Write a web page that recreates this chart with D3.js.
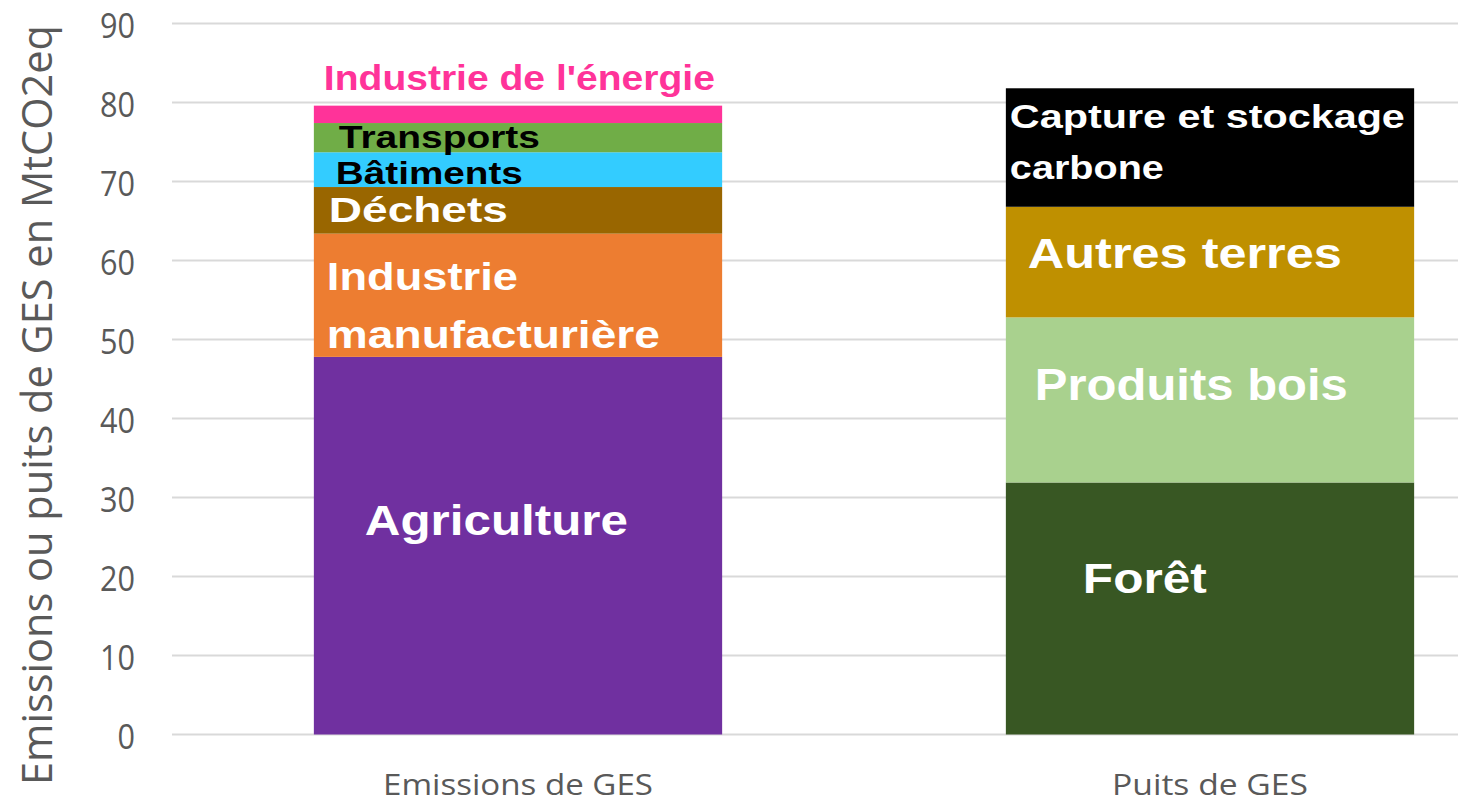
<!DOCTYPE html>
<html>
<head>
<meta charset="utf-8">
<script src="https://cdn.jsdelivr.net/npm/d3@7"></script>
<style>
	body { margin: 0; background: #fff; }
	svg { display: block; }
	.tick-label, .cat-label, .y-title { font-family: "Open Sans", sans-serif; fill: #595959; }
	.bar-label { font-family: "Liberation Sans", Arial, sans-serif; font-weight: bold; }
</style>
</head>
<body>
<script>
// chart data
var categories = ["Emissions de GES", "Puits de GES"];

var emissionSectors = ["Agriculture", "Industrie manufacturière", "Déchets", "Bâtiments", "Transports", "Industrie de l'énergie"];
var emissionValues = [47.8, 15.6, 5.9, 4.4, 3.7, 2.2];
var emissionColors = ["#7030a0", "#ed7d31", "#996600", "#33ccff", "#70ad47", "#ff3399"];

var sinkSectors = ["Forêt", "Produits bois", "Autres terres", "Capture et stockage carbone"];
var sinkValues = [31.9, 20.9, 14.0, 15.0];
var sinkColors = ["#385723", "#a9d18e", "#bf9000", "#000000"];

var yTicks = [0, 10, 20, 30, 40, 50, 60, 70, 80, 90];
var yTitle = "Emissions ou puits de GES en MtCO2eq";

// label placement inside the segments (offsets from band start / segment middle)
var labelLayout = {
	"Agriculture": { lines: ["Agriculture"], dx: 51, dy: [-10.7], size: 42, widths: [263], fill: "#fff" },
	"Industrie manufacturière": { lines: ["Industrie", "manufacturière"], dx: 13, dy: [-5.3, 52.7], size: 39, widths: [191, 333], fill: "#fff" },
	"Déchets": { lines: ["Déchets"], dx: 15, dy: [11.7], size: 35, widths: [179], fill: "#fff" },
	"Bâtiments": { lines: ["Bâtiments"], dx: 22, dy: [14.4], size: 31, widths: [187], fill: "#000" },
	"Transports": { lines: ["Transports"], dx: 25, dy: [10.3], size: 32, widths: [201], fill: "#000" },
	"Industrie de l'énergie": { lines: ["Industrie de l'énergie"], dx: 10, dy: [-24.4], size: 35, widths: [391], fill: "#ff3399" },
	"Forêt": { lines: ["Forêt"], dx: 77, dy: [-15.5], size: 42, widths: [124], fill: "#fff" },
	"Produits bois": { lines: ["Produits bois"], dx: 29, dy: [0], size: 44, widths: [313], fill: "#fff" },
	"Autres terres": { lines: ["Autres terres"], dx: 22, dy: [6], size: 43, widths: [314], fill: "#fff" },
	"Capture et stockage carbone": { lines: ["Capture et stockage", "carbone"], dx: 4, dy: [-19.5, 31.5], size: 34, widths: [395, 154], fill: "#fff" }
};

window.onload = drawChart();

function drawChart(){

	var width = 1458,
		height = 805;

	var svg = d3.select("body")
		.append("svg")
		.attr("width", width)
		.attr("height", height);

	// plot area runs past the right edge like the original screenshot
	var x = d3.scaleBand()
		.domain(categories)
		.range([172, 1556])
		.paddingInner(0.41)
		.paddingOuter(0.205);

	var y = d3.scaleLinear()
		.domain([0, 90])
		.range([734.5, 23.5]);

	// gridlines
	svg.selectAll(".grid")
		.data(yTicks)
		.enter()
		.append("line")
		.attr("class", "grid")
		.attr("x1", 172)
		.attr("x2", width)
		.attr("y1", function(d){ return y(d); })
		.attr("y2", function(d){ return y(d); })
		.attr("stroke", "#d9d9d9")
		.attr("stroke-width", 2);

	// tick labels
	svg.selectAll(".tick-label")
		.data(yTicks)
		.enter()
		.append("text")
		.attr("class", "tick-label")
		.attr("x", 135)
		.attr("y", function(d){ return y(d) + 14.5; })
		.attr("text-anchor", "end")
		.attr("font-size", 34)
		.attr("textLength", function(d){ return String(d).length * 17.5; })
		.attr("lengthAdjust", "spacingAndGlyphs")
		.text(function(d){ return d; });

	// stacked rows, one per category
	var allSectors = emissionSectors.concat(sinkSectors);
	var allColors = emissionColors.concat(sinkColors);
	var rows = categories.map(function(c, i){
		var row = { category: c };
		allSectors.forEach(function(s){ row[s] = 0; });
		if (i === 0) emissionSectors.forEach(function(s, j){ row[s] = emissionValues[j]; });
		else sinkSectors.forEach(function(s, j){ row[s] = sinkValues[j]; });
		return row;
	});

	var series = d3.stack().keys(allSectors)(rows);
	var color = d3.scaleOrdinal().domain(allSectors).range(allColors);

	var segments = [];
	series.forEach(function(s){
		s.forEach(function(d){
			if (d[1] - d[0] > 0) segments.push({ key: s.key, cat: d.data.category, y0: d[0], y1: d[1] });
		});
	});

	svg.selectAll(".seg")
		.data(segments)
		.enter()
		.append("rect")
		.attr("class", "seg")
		.attr("x", function(d){ return x(d.cat); })
		.attr("width", x.bandwidth())
		.attr("y", function(d){ return y(d.y1); })
		.attr("height", function(d){ return y(d.y0) - y(d.y1); })
		.attr("fill", function(d){ return color(d.key); });

	// segment labels
	segments.forEach(function(d){
		var lay = labelLayout[d.key];
		var mid = y((d.y0 + d.y1) / 2);
		lay.lines.forEach(function(line, k){
			svg.append("text")
				.attr("class", "bar-label")
				.attr("x", x(d.cat) + lay.dx)
				.attr("y", mid + lay.dy[k])
				.attr("font-size", lay.size)
				.attr("fill", lay.fill)
				.attr("textLength", lay.widths[k])
				.attr("lengthAdjust", "spacingAndGlyphs")
				.text(line);
		});
	});

	// category labels
	var catWidths = [270, 196];
	svg.selectAll(".cat-label")
		.data(categories)
		.enter()
		.append("text")
		.attr("class", "cat-label")
		.attr("x", function(d){ return x(d) + x.bandwidth() / 2; })
		.attr("y", 795)
		.attr("text-anchor", "middle")
		.attr("font-size", 30)
		.attr("textLength", function(d, i){ return catWidths[i]; })
		.attr("lengthAdjust", "spacingAndGlyphs")
		.text(function(d){ return d; });

	// y axis title
	svg.append("text")
		.attr("class", "y-title")
		.attr("transform", "translate(52,405) rotate(-90)")
		.attr("text-anchor", "middle")
		.attr("font-size", 42)
		.attr("textLength", 760)
		.attr("lengthAdjust", "spacingAndGlyphs")
		.text(yTitle);
};
</script>
</body>
</html>
